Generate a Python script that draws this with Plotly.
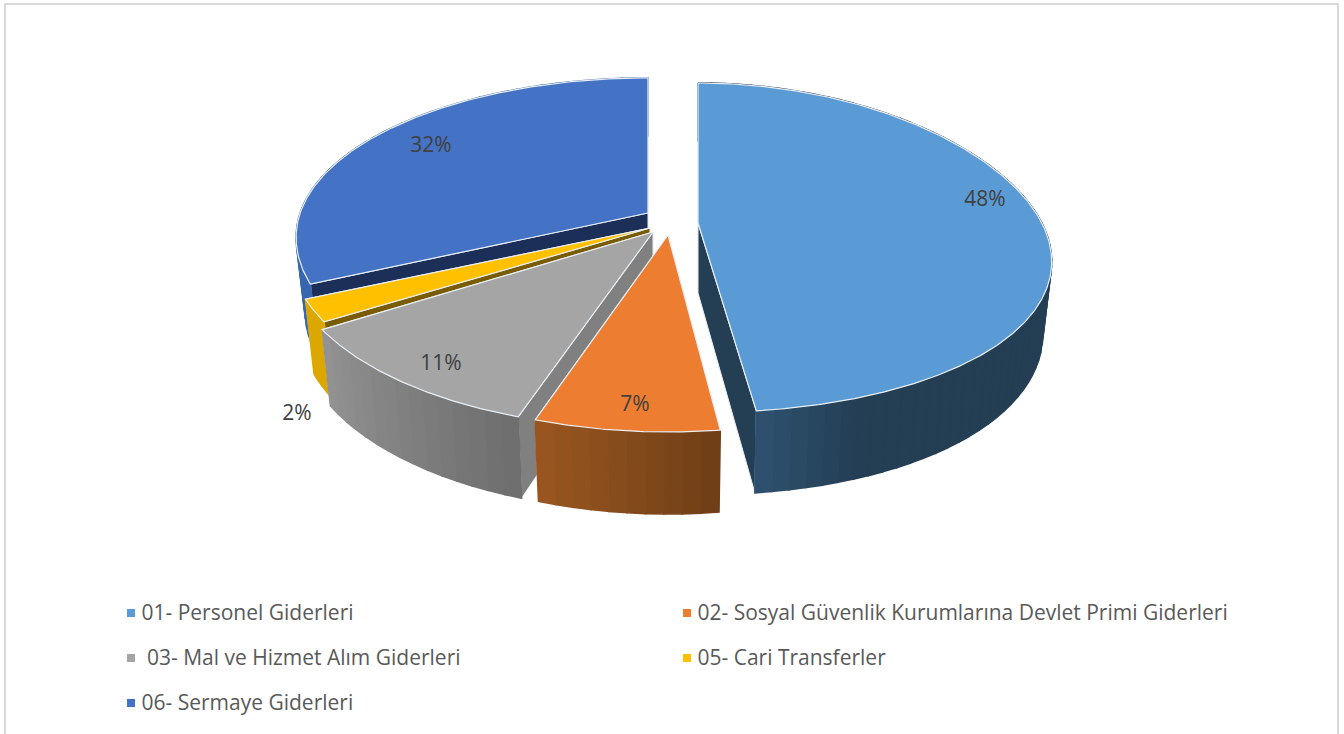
import numpy as np
import plotly.graph_objects as go

# ---- data ----
categories = ["01- Personel Giderleri",
              "02- Sosyal Güvenlik Kurumlarına Devlet Primi Giderleri",
              "\u00a003- Mal ve Hizmet Alım Giderleri",
              "05- Cari Transferler",
              "06- Sermaye Giderleri"]
values = [48, 7.2, 10.8, 2.2, 31.8]
pct_labels = ["48%", "7%", "11%", "2%", "32%"]

# ---- style / layout ----
top_colors = ["#5b9bd5", "#ed7d31", "#a5a5a5", "#ffc000", "#4472c4"]
face_colors = ["#243e54", "#6e3f18", "#808080", "#7a5c00", "#1b2f58"]
wall_stops = [
    [(0, "#243e54"), (158, "#243e54"), (172.8, "#2f5270")],
    [(172.8, "#6e3e17"), (198, "#99561f")],
    [(198, "#6d6d6d"), (237.6, "#939393")],
    [(237.6, "#dca800"), (246, "#dca800")],
    [(244.8, "#3966b0"), (360, "#3966b0")],
]
apex = [(698, 223), (668, 235), (653, 232), (650, 228), (648, 213)]
scale = [(0.985, 1.0), (1.0, 1.04), (1.015, 1.04), (1.0, 1.0), (0.98, 1.0)]
far_scale = [1.0, 1.0, 1.0, 1.0, 0.965]
skew = [7, 0, 0, 0, 0]
sag = [14, 0, 0, 0, 0]
label_pos = [(985, 201), (635, 406), (441, 365), (297, 415), (431, 147)]
legend_pos = [(131, 613), (687, 613), (131, 658), (687, 658), (131, 703)]
RX, RY, P = 355.0, 161.0, 0.15
DEPTH0, DEPTH1, SHRINK = 70.0, 12.0, 0.975
EDGE = "#e9eff5"


def hex2rgb(h):
    return np.array([int(h[i:i + 2], 16) for i in (1, 3, 5)], float)


def wall_color(stops, theta):
    ts = [s[0] for s in stops]
    cs = np.array([hex2rgb(s[1]) for s in stops])
    rgb = [np.interp(theta, ts, cs[:, k]) for k in range(3)]
    return "rgb(%d,%d,%d)" % tuple(int(round(c)) for c in rgb)


def project(i, theta_deg, r=1.0, z=0.0):
    th = np.radians(theta_deg)
    u, v = r * np.sin(th), -r * np.cos(th)
    s = 1.0 / (1.0 - P * v)
    ax, ay = apex[i]
    sx, sy = scale[i]
    px = RX * sx * u * s + skew[i] * max(v, 0) ** 3
    py = RY * (sy if v >= 0 else far_scale[i]) * v * s + sag[i] * max(u, 0) ** 2
    return ax + px * (1 - (1 - SHRINK) * z), ay + py + z * (DEPTH0 + DEPTH1 * v)


def poly(xs, ys, fill, line=None, width=1.0):
    return go.Scatter(x=list(xs) + [xs[0]], y=list(ys) + [ys[0]], mode="lines",
                      fill="toself", fillcolor=fill,
                      line=dict(color=line or fill, width=width),
                      hoverinfo="skip", showlegend=False)


cum = np.cumsum([0] + values) / sum(values) * 360.0
fig = go.Figure()

# far slices first, near ones paint over them
for i in [4, 3, 2, 1, 0]:
    a0, a1 = cum[i], cum[i + 1]
    # cut faces: the one that stays visible goes last
    for a in ((a0, a1) if i == 0 else (a1, a0)):
        x1, y1 = project(i, a)
        x2, y2 = project(i, a, z=1)
        x3, y3 = project(i, a, r=0, z=1)
        x4, y4 = project(i, a, r=0)
        fig.add_trace(poly([x1, x2, x3, x4], [y1, y2, y3, y4], face_colors[i], EDGE, 1.0))
    # curved outer wall, cut into strips for the shading
    n = max(4, int((a1 - a0) / 2.5))
    th = np.linspace(a0, a1, n + 1)
    for k in range(n):
        pts = [project(i, th[k]), project(i, th[k], z=1), project(i, th[k + 1], z=1), project(i, th[k + 1])]
        col = wall_color(wall_stops[i], (th[k] + th[k + 1]) / 2)
        fig.add_trace(poly([p[0] for p in pts], [p[1] for p in pts], col, col, 1.6))
    # top
    tt = np.linspace(a0, a1, max(8, int(a1 - a0) * 2))
    rim = [project(i, t) for t in tt]
    ax_, ay_ = project(i, a0, r=0)
    fig.add_trace(poly([ax_] + [p[0] for p in rim], [ay_] + [p[1] for p in rim], top_colors[i], EDGE, 1.2))

# percentage labels
fig.add_trace(go.Scatter(x=[p[0] for p in label_pos], y=[p[1] for p in label_pos], mode="text",
                         text=pct_labels, textposition="middle center",
                         textfont=dict(family="Open Sans", size=21, color="#404040"),
                         hoverinfo="skip", showlegend=False))

# key: squares, then their texts set a little lower
for i, name in enumerate(categories):
    fig.add_trace(go.Scatter(x=[legend_pos[i][0]], y=[legend_pos[i][1]], mode="markers",
                             marker=dict(symbol="square", size=8, color=top_colors[i]),
                             hoverinfo="skip", showlegend=False))
    fig.add_trace(go.Scatter(x=[legend_pos[i][0] + 5], y=[legend_pos[i][1] + 1.5], mode="text",
                             text=[" " + name], textposition="middle right",
                             textfont=dict(family="Open Sans", size=21, color="#595959"),
                             hoverinfo="skip", showlegend=False))

fig.update_layout(
    width=1344, height=734, autosize=False,
    margin=dict(l=0, r=0, t=0, b=0),
    paper_bgcolor="white", plot_bgcolor="white",
    xaxis=dict(range=[0, 1344], visible=False, fixedrange=True),
    yaxis=dict(range=[734, 0], visible=False, fixedrange=True),
    shapes=[dict(type="path", path="M 5 740 L 5 4 L 1338 4 L 1338 740",
                 line=dict(color="#d9d9d9", width=2), layer="below")],
)
fig.write_html("out.html", config={"displayModeBar": False},
               post_script="document.body.style.margin='0';document.body.style.overflow='hidden';")
